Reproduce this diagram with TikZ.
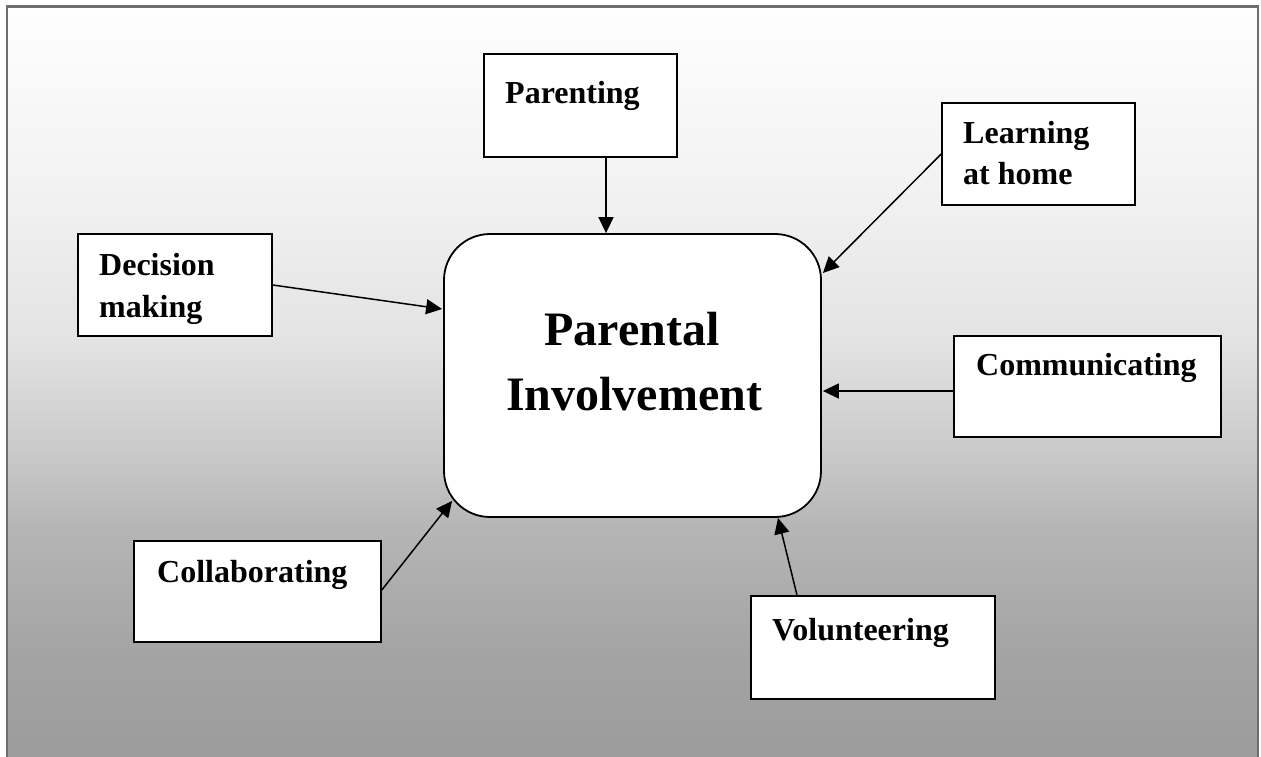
\documentclass[tikz,border=0pt]{standalone}
\usepackage{fontspec}
\setmainfont{Liberation Serif}
\usetikzlibrary{arrows.meta}
\definecolor{framegray}{RGB}{110,110,110}
\definecolor{ga}{RGB}{254,254,254}
\definecolor{gb}{RGB}{241,241,241}
\definecolor{gc}{RGB}{227,227,227}
\definecolor{gd}{RGB}{202,202,202}
\definecolor{ge}{RGB}{181,181,181}
\definecolor{gf}{RGB}{164,164,164}
\definecolor{gg}{RGB}{156,156,156}
\begin{document}
\begin{tikzpicture}[x=1pt,y=-1pt,
  box/.style={draw=black, fill=white, line width=1.6pt, rectangle, inner sep=0pt},
  centerbox/.style={draw=black, fill=white, line width=1.8pt, rectangle, rounded corners=46pt, inner sep=0pt},
  lbl/.style={anchor=base west, inner sep=0pt, font=\fontsize{32}{42}\selectfont\bfseries},
  bigl/.style={anchor=base, inner sep=0pt, font=\fontsize{48}{65}\selectfont\bfseries},
  arr/.style={line width=1.5pt, -{Triangle[length=16pt,width=15pt]}}]
\useasboundingbox (0,0) rectangle (1261,756);
% background gradient
\fill[top color=ga, bottom color=gb] (7,6) rectangle (1258,200.5);
\fill[top color=gb, bottom color=gc] (7,200) rectangle (1258,340.5);
\fill[top color=gc, bottom color=gd] (7,340) rectangle (1258,450.5);
\fill[top color=gd, bottom color=ge] (7,450) rectangle (1258,530.5);
\fill[top color=ge, bottom color=gf] (7,530) rectangle (1258,650.5);
\fill[top color=gf, bottom color=gg] (7,650) rectangle (1258,756);
% frame
\draw[framegray, line width=2.5pt] (7,757) -- (7,6.3) -- (1258,6.3) -- (1258,757);
% boxes
\node[centerbox, minimum width=377pt, minimum height=283pt] (cen) at (632.5,375.5) {};
\node[box, minimum width=193pt, minimum height=103pt] (par) at (580.5,105.5) {};
\node[box, minimum width=193pt, minimum height=102pt] (lrn) at (1038.5,154) {};
\node[box, minimum width=194pt, minimum height=102pt] (dec) at (175,285) {};
\node[box, minimum width=267pt, minimum height=101pt] (com) at (1087.5,386.5) {};
\node[box, minimum width=247pt, minimum height=101pt] (col) at (257.5,591.5) {};
\node[box, minimum width=244pt, minimum height=103pt] (vol) at (873,647.5) {};
% texts
\node[bigl] (t1) at (632,345) {Parental};
\node[bigl] (t2) at (634,410) {Involvement};
\node[lbl] (tpar) at (505,103) {Parenting};
\node[lbl] (tlrn1) at (963,143) {Learning};
\node[lbl] (tlrn2) at (963,184) {at home};
\node[lbl] (tdec1) at (99,275) {Decision};
\node[lbl] (tdec2) at (99,317) {making};
\node[lbl] (tcom) at (976,375) {Communicating};
\node[lbl] (tcol) at (157,582) {Collaborating};
\node[lbl] (tvol) at (772,640) {Volunteering};
% connectors
\draw[arr] ([xshift=25.5pt]par.south) -- ([xshift=-26.5pt]cen.north);
\draw[arr] (lrn.west) -- ([shift={(1pt,102.5pt)}]cen.east);
\draw[arr] (dec.east) -- ([shift={(-1pt,66.5pt)}]cen.west);
\draw[arr] ([yshift=-4.5pt]com.west) -- ([shift={(1pt,-15.5pt)}]cen.east);
\draw[arr] ([yshift=1.5pt]col.east) -- ([shift={(9pt,17pt)}]cen.south west);
\draw[arr] ([xshift=-76pt]vol.north) -- ([xshift=145.5pt]cen.south);
\end{tikzpicture}
\end{document}
